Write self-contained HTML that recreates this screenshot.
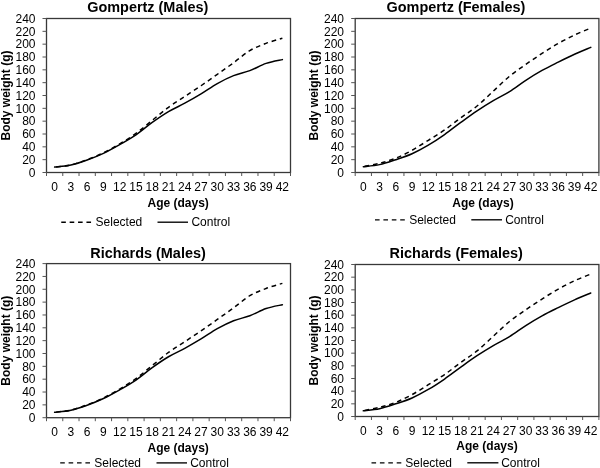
<!DOCTYPE html>
<html><head><meta charset="utf-8"><title>Growth curves</title>
<style>
html,body{margin:0;padding:0;background:#fff;}
svg{display:block;will-change:transform;}
text{font-family:"Liberation Sans",sans-serif;fill:#000;}
.t{font-size:12px;}
.b{font-size:12px;font-weight:bold;}
.ti{font-size:14.45px;font-weight:bold;}
</style></head><body>
<svg width="600" height="468" viewBox="0 0 600 468">
<rect x="0" y="0" width="600" height="468" fill="#fff"/>
<rect x="46.5" y="18.5" width="244.0" height="154.0" fill="none" stroke="#383838" stroke-width="1.3"/>
<line x1="42.5" y1="172.50" x2="46.5" y2="172.50" stroke="#555555" stroke-width="1"/>
<text x="35.5" y="176.80" text-anchor="end" class="t">0</text>
<line x1="42.5" y1="159.67" x2="46.5" y2="159.67" stroke="#555555" stroke-width="1"/>
<text x="35.5" y="163.97" text-anchor="end" class="t">20</text>
<line x1="42.5" y1="146.83" x2="46.5" y2="146.83" stroke="#555555" stroke-width="1"/>
<text x="35.5" y="151.13" text-anchor="end" class="t">40</text>
<line x1="42.5" y1="134.00" x2="46.5" y2="134.00" stroke="#555555" stroke-width="1"/>
<text x="35.5" y="138.30" text-anchor="end" class="t">60</text>
<line x1="42.5" y1="121.17" x2="46.5" y2="121.17" stroke="#555555" stroke-width="1"/>
<text x="35.5" y="125.47" text-anchor="end" class="t">80</text>
<line x1="42.5" y1="108.33" x2="46.5" y2="108.33" stroke="#555555" stroke-width="1"/>
<text x="35.5" y="112.63" text-anchor="end" class="t">100</text>
<line x1="42.5" y1="95.50" x2="46.5" y2="95.50" stroke="#555555" stroke-width="1"/>
<text x="35.5" y="99.80" text-anchor="end" class="t">120</text>
<line x1="42.5" y1="82.67" x2="46.5" y2="82.67" stroke="#555555" stroke-width="1"/>
<text x="35.5" y="86.97" text-anchor="end" class="t">140</text>
<line x1="42.5" y1="69.83" x2="46.5" y2="69.83" stroke="#555555" stroke-width="1"/>
<text x="35.5" y="74.13" text-anchor="end" class="t">160</text>
<line x1="42.5" y1="57.00" x2="46.5" y2="57.00" stroke="#555555" stroke-width="1"/>
<text x="35.5" y="61.30" text-anchor="end" class="t">180</text>
<line x1="42.5" y1="44.17" x2="46.5" y2="44.17" stroke="#555555" stroke-width="1"/>
<text x="35.5" y="48.47" text-anchor="end" class="t">200</text>
<line x1="42.5" y1="31.33" x2="46.5" y2="31.33" stroke="#555555" stroke-width="1"/>
<text x="35.5" y="35.63" text-anchor="end" class="t">220</text>
<line x1="42.5" y1="18.50" x2="46.5" y2="18.50" stroke="#555555" stroke-width="1"/>
<text x="35.5" y="22.80" text-anchor="end" class="t">240</text>
<line x1="46.50" y1="172.5" x2="46.50" y2="176.0" stroke="#555555" stroke-width="1"/>
<line x1="62.77" y1="172.5" x2="62.77" y2="176.0" stroke="#555555" stroke-width="1"/>
<line x1="79.03" y1="172.5" x2="79.03" y2="176.0" stroke="#555555" stroke-width="1"/>
<line x1="95.30" y1="172.5" x2="95.30" y2="176.0" stroke="#555555" stroke-width="1"/>
<line x1="111.57" y1="172.5" x2="111.57" y2="176.0" stroke="#555555" stroke-width="1"/>
<line x1="127.83" y1="172.5" x2="127.83" y2="176.0" stroke="#555555" stroke-width="1"/>
<line x1="144.10" y1="172.5" x2="144.10" y2="176.0" stroke="#555555" stroke-width="1"/>
<line x1="160.37" y1="172.5" x2="160.37" y2="176.0" stroke="#555555" stroke-width="1"/>
<line x1="176.63" y1="172.5" x2="176.63" y2="176.0" stroke="#555555" stroke-width="1"/>
<line x1="192.90" y1="172.5" x2="192.90" y2="176.0" stroke="#555555" stroke-width="1"/>
<line x1="209.17" y1="172.5" x2="209.17" y2="176.0" stroke="#555555" stroke-width="1"/>
<line x1="225.43" y1="172.5" x2="225.43" y2="176.0" stroke="#555555" stroke-width="1"/>
<line x1="241.70" y1="172.5" x2="241.70" y2="176.0" stroke="#555555" stroke-width="1"/>
<line x1="257.97" y1="172.5" x2="257.97" y2="176.0" stroke="#555555" stroke-width="1"/>
<line x1="274.23" y1="172.5" x2="274.23" y2="176.0" stroke="#555555" stroke-width="1"/>
<line x1="290.50" y1="172.5" x2="290.50" y2="176.0" stroke="#555555" stroke-width="1"/>
<text x="54.63" y="191" text-anchor="middle" class="t">0</text>
<text x="70.90" y="191" text-anchor="middle" class="t">3</text>
<text x="87.17" y="191" text-anchor="middle" class="t">6</text>
<text x="103.43" y="191" text-anchor="middle" class="t">9</text>
<text x="119.70" y="191" text-anchor="middle" class="t">12</text>
<text x="135.97" y="191" text-anchor="middle" class="t">15</text>
<text x="152.23" y="191" text-anchor="middle" class="t">18</text>
<text x="168.50" y="191" text-anchor="middle" class="t">21</text>
<text x="184.77" y="191" text-anchor="middle" class="t">24</text>
<text x="201.03" y="191" text-anchor="middle" class="t">27</text>
<text x="217.30" y="191" text-anchor="middle" class="t">30</text>
<text x="233.57" y="191" text-anchor="middle" class="t">33</text>
<text x="249.83" y="191" text-anchor="middle" class="t">36</text>
<text x="266.10" y="191" text-anchor="middle" class="t">39</text>
<text x="282.37" y="191" text-anchor="middle" class="t">42</text>
<path d="M54.63,167.11 C57.34,166.74 65.48,166.10 70.90,164.86 C76.32,163.62 81.74,161.68 87.17,159.67 C92.59,157.66 98.01,155.43 103.43,152.80 C108.86,150.17 114.28,147.11 119.70,143.88 C125.12,140.65 130.54,137.35 135.97,133.42 C141.39,129.50 146.81,124.69 152.23,120.33 C157.66,115.98 163.08,111.27 168.50,107.31 C173.92,103.34 179.34,100.12 184.77,96.53 C190.19,92.93 195.61,89.45 201.03,85.75 C206.46,82.05 211.88,78.15 217.30,74.32 C222.72,70.50 228.14,66.73 233.57,62.77 C238.99,58.82 244.41,53.82 249.83,50.58 C255.26,47.34 260.68,45.39 266.10,43.33 C271.52,41.28 279.66,39.11 282.37,38.26" fill="none" stroke="#000" stroke-width="1.5" stroke-dasharray="4.6,3.8" stroke-dashoffset="6.7"/>
<path d="M54.63,167.11 C57.34,166.76 65.48,166.18 70.90,164.99 C76.32,163.81 81.74,161.93 87.17,159.99 C92.59,158.04 98.01,155.87 103.43,153.31 C108.86,150.76 114.28,147.72 119.70,144.65 C125.12,141.58 130.54,138.60 135.97,134.90 C141.39,131.20 146.81,126.33 152.23,122.45 C157.66,118.57 163.08,114.81 168.50,111.61 C173.92,108.40 179.34,106.16 184.77,103.20 C190.19,100.24 195.61,97.10 201.03,93.83 C206.46,90.56 211.88,86.60 217.30,83.56 C222.72,80.53 228.14,77.76 233.57,75.61 C238.99,73.46 244.41,72.71 249.83,70.67 C255.26,68.62 260.68,65.19 266.10,63.35 C271.52,61.51 279.66,60.25 282.37,59.63" fill="none" stroke="#000" stroke-width="1.5" stroke-linecap="round"/>
<text x="147.75" y="11.5" text-anchor="middle" class="ti">Gompertz (Males)</text>
<text x="178.2" y="206.5" text-anchor="middle" class="b">Age (days)</text>
<text transform="translate(9.8,95.5) rotate(-90)" text-anchor="middle" class="b">Body weight (g)</text>
<line x1="61.25" y1="222.2" x2="91.25" y2="222.2" stroke="#000" stroke-width="1.35" stroke-dasharray="4.6,3.8"/>
<text x="95.6" y="226.25" class="t">Selected</text>
<line x1="157.5" y1="222.2" x2="188" y2="222.2" stroke="#000" stroke-width="1.35"/>
<text x="191.4" y="226.25" class="t">Control</text>
<rect x="355.2" y="18.5" width="243.7" height="154.0" fill="none" stroke="#383838" stroke-width="1.3"/>
<line x1="351.2" y1="172.50" x2="355.2" y2="172.50" stroke="#555555" stroke-width="1"/>
<text x="344" y="176.80" text-anchor="end" class="t">0</text>
<line x1="351.2" y1="159.67" x2="355.2" y2="159.67" stroke="#555555" stroke-width="1"/>
<text x="344" y="163.97" text-anchor="end" class="t">20</text>
<line x1="351.2" y1="146.83" x2="355.2" y2="146.83" stroke="#555555" stroke-width="1"/>
<text x="344" y="151.13" text-anchor="end" class="t">40</text>
<line x1="351.2" y1="134.00" x2="355.2" y2="134.00" stroke="#555555" stroke-width="1"/>
<text x="344" y="138.30" text-anchor="end" class="t">60</text>
<line x1="351.2" y1="121.17" x2="355.2" y2="121.17" stroke="#555555" stroke-width="1"/>
<text x="344" y="125.47" text-anchor="end" class="t">80</text>
<line x1="351.2" y1="108.33" x2="355.2" y2="108.33" stroke="#555555" stroke-width="1"/>
<text x="344" y="112.63" text-anchor="end" class="t">100</text>
<line x1="351.2" y1="95.50" x2="355.2" y2="95.50" stroke="#555555" stroke-width="1"/>
<text x="344" y="99.80" text-anchor="end" class="t">120</text>
<line x1="351.2" y1="82.67" x2="355.2" y2="82.67" stroke="#555555" stroke-width="1"/>
<text x="344" y="86.97" text-anchor="end" class="t">140</text>
<line x1="351.2" y1="69.83" x2="355.2" y2="69.83" stroke="#555555" stroke-width="1"/>
<text x="344" y="74.13" text-anchor="end" class="t">160</text>
<line x1="351.2" y1="57.00" x2="355.2" y2="57.00" stroke="#555555" stroke-width="1"/>
<text x="344" y="61.30" text-anchor="end" class="t">180</text>
<line x1="351.2" y1="44.17" x2="355.2" y2="44.17" stroke="#555555" stroke-width="1"/>
<text x="344" y="48.47" text-anchor="end" class="t">200</text>
<line x1="351.2" y1="31.33" x2="355.2" y2="31.33" stroke="#555555" stroke-width="1"/>
<text x="344" y="35.63" text-anchor="end" class="t">220</text>
<line x1="351.2" y1="18.50" x2="355.2" y2="18.50" stroke="#555555" stroke-width="1"/>
<text x="344" y="22.80" text-anchor="end" class="t">240</text>
<line x1="355.20" y1="172.5" x2="355.20" y2="176.0" stroke="#555555" stroke-width="1"/>
<line x1="371.45" y1="172.5" x2="371.45" y2="176.0" stroke="#555555" stroke-width="1"/>
<line x1="387.69" y1="172.5" x2="387.69" y2="176.0" stroke="#555555" stroke-width="1"/>
<line x1="403.94" y1="172.5" x2="403.94" y2="176.0" stroke="#555555" stroke-width="1"/>
<line x1="420.19" y1="172.5" x2="420.19" y2="176.0" stroke="#555555" stroke-width="1"/>
<line x1="436.43" y1="172.5" x2="436.43" y2="176.0" stroke="#555555" stroke-width="1"/>
<line x1="452.68" y1="172.5" x2="452.68" y2="176.0" stroke="#555555" stroke-width="1"/>
<line x1="468.93" y1="172.5" x2="468.93" y2="176.0" stroke="#555555" stroke-width="1"/>
<line x1="485.17" y1="172.5" x2="485.17" y2="176.0" stroke="#555555" stroke-width="1"/>
<line x1="501.42" y1="172.5" x2="501.42" y2="176.0" stroke="#555555" stroke-width="1"/>
<line x1="517.67" y1="172.5" x2="517.67" y2="176.0" stroke="#555555" stroke-width="1"/>
<line x1="533.91" y1="172.5" x2="533.91" y2="176.0" stroke="#555555" stroke-width="1"/>
<line x1="550.16" y1="172.5" x2="550.16" y2="176.0" stroke="#555555" stroke-width="1"/>
<line x1="566.41" y1="172.5" x2="566.41" y2="176.0" stroke="#555555" stroke-width="1"/>
<line x1="582.65" y1="172.5" x2="582.65" y2="176.0" stroke="#555555" stroke-width="1"/>
<line x1="598.90" y1="172.5" x2="598.90" y2="176.0" stroke="#555555" stroke-width="1"/>
<text x="363.32" y="190.5" text-anchor="middle" class="t">0</text>
<text x="379.57" y="190.5" text-anchor="middle" class="t">3</text>
<text x="395.82" y="190.5" text-anchor="middle" class="t">6</text>
<text x="412.06" y="190.5" text-anchor="middle" class="t">9</text>
<text x="428.31" y="190.5" text-anchor="middle" class="t">12</text>
<text x="444.56" y="190.5" text-anchor="middle" class="t">15</text>
<text x="460.80" y="190.5" text-anchor="middle" class="t">18</text>
<text x="477.05" y="190.5" text-anchor="middle" class="t">21</text>
<text x="493.30" y="190.5" text-anchor="middle" class="t">24</text>
<text x="509.54" y="190.5" text-anchor="middle" class="t">27</text>
<text x="525.79" y="190.5" text-anchor="middle" class="t">30</text>
<text x="542.04" y="190.5" text-anchor="middle" class="t">33</text>
<text x="558.28" y="190.5" text-anchor="middle" class="t">36</text>
<text x="574.53" y="190.5" text-anchor="middle" class="t">39</text>
<text x="590.78" y="190.5" text-anchor="middle" class="t">42</text>
<path d="M363.32,166.53 C366.03,165.99 374.15,164.65 379.57,163.26 C384.99,161.87 390.40,160.35 395.82,158.19 C401.23,156.03 406.65,153.28 412.06,150.30 C417.48,147.31 422.89,143.68 428.31,140.29 C433.73,136.90 439.14,133.71 444.56,129.96 C449.97,126.20 455.39,121.75 460.80,117.77 C466.22,113.78 471.63,110.46 477.05,106.02 C482.47,101.59 487.88,96.10 493.30,91.14 C498.71,86.17 504.13,80.71 509.54,76.25 C514.96,71.79 520.37,68.18 525.79,64.38 C531.21,60.58 536.62,56.97 542.04,53.47 C547.45,49.97 552.87,46.48 558.28,43.40 C563.70,40.32 569.11,37.54 574.53,34.99 C579.95,32.45 588.07,29.27 590.78,28.12" fill="none" stroke="#000" stroke-width="1.5" stroke-dasharray="4.6,3.8" stroke-dashoffset="7.0"/>
<path d="M363.32,166.72 C366.03,166.37 374.15,165.78 379.57,164.61 C384.99,163.43 390.40,161.48 395.82,159.67 C401.23,157.85 406.65,156.13 412.06,153.70 C417.48,151.27 422.89,148.30 428.31,145.10 C433.73,141.90 439.14,138.29 444.56,134.51 C449.97,130.74 455.39,126.39 460.80,122.45 C466.22,118.51 471.63,114.53 477.05,110.90 C482.47,107.27 487.88,103.92 493.30,100.70 C498.71,97.48 504.13,94.98 509.54,91.59 C514.96,88.20 520.37,83.88 525.79,80.36 C531.21,76.84 536.62,73.51 542.04,70.47 C547.45,67.44 552.87,64.83 558.28,62.13 C563.70,59.44 569.11,56.76 574.53,54.30 C579.95,51.85 588.07,48.53 590.78,47.37" fill="none" stroke="#000" stroke-width="1.5" stroke-linecap="round"/>
<text x="455.9" y="11.5" text-anchor="middle" class="ti">Gompertz (Females)</text>
<text x="483" y="206.5" text-anchor="middle" class="b">Age (days)</text>
<text transform="translate(318.0,95.5) rotate(-90)" text-anchor="middle" class="b">Body weight (g)</text>
<line x1="375" y1="219.8" x2="405" y2="219.8" stroke="#000" stroke-width="1.35" stroke-dasharray="4.6,3.8"/>
<text x="409.2" y="223.5" class="t">Selected</text>
<line x1="471.3" y1="219.8" x2="502" y2="219.8" stroke="#000" stroke-width="1.35"/>
<text x="505.2" y="223.5" class="t">Control</text>
<rect x="46.5" y="263.6" width="244.0" height="154.09999999999997" fill="none" stroke="#383838" stroke-width="1.3"/>
<line x1="42.5" y1="417.70" x2="46.5" y2="417.70" stroke="#555555" stroke-width="1"/>
<text x="35.5" y="422.00" text-anchor="end" class="t">0</text>
<line x1="42.5" y1="404.86" x2="46.5" y2="404.86" stroke="#555555" stroke-width="1"/>
<text x="35.5" y="409.16" text-anchor="end" class="t">20</text>
<line x1="42.5" y1="392.02" x2="46.5" y2="392.02" stroke="#555555" stroke-width="1"/>
<text x="35.5" y="396.32" text-anchor="end" class="t">40</text>
<line x1="42.5" y1="379.18" x2="46.5" y2="379.18" stroke="#555555" stroke-width="1"/>
<text x="35.5" y="383.48" text-anchor="end" class="t">60</text>
<line x1="42.5" y1="366.33" x2="46.5" y2="366.33" stroke="#555555" stroke-width="1"/>
<text x="35.5" y="370.63" text-anchor="end" class="t">80</text>
<line x1="42.5" y1="353.49" x2="46.5" y2="353.49" stroke="#555555" stroke-width="1"/>
<text x="35.5" y="357.79" text-anchor="end" class="t">100</text>
<line x1="42.5" y1="340.65" x2="46.5" y2="340.65" stroke="#555555" stroke-width="1"/>
<text x="35.5" y="344.95" text-anchor="end" class="t">120</text>
<line x1="42.5" y1="327.81" x2="46.5" y2="327.81" stroke="#555555" stroke-width="1"/>
<text x="35.5" y="332.11" text-anchor="end" class="t">140</text>
<line x1="42.5" y1="314.97" x2="46.5" y2="314.97" stroke="#555555" stroke-width="1"/>
<text x="35.5" y="319.27" text-anchor="end" class="t">160</text>
<line x1="42.5" y1="302.12" x2="46.5" y2="302.12" stroke="#555555" stroke-width="1"/>
<text x="35.5" y="306.43" text-anchor="end" class="t">180</text>
<line x1="42.5" y1="289.28" x2="46.5" y2="289.28" stroke="#555555" stroke-width="1"/>
<text x="35.5" y="293.58" text-anchor="end" class="t">200</text>
<line x1="42.5" y1="276.44" x2="46.5" y2="276.44" stroke="#555555" stroke-width="1"/>
<text x="35.5" y="280.74" text-anchor="end" class="t">220</text>
<line x1="42.5" y1="263.60" x2="46.5" y2="263.60" stroke="#555555" stroke-width="1"/>
<text x="35.5" y="267.90" text-anchor="end" class="t">240</text>
<line x1="46.50" y1="417.7" x2="46.50" y2="421.2" stroke="#555555" stroke-width="1"/>
<line x1="62.77" y1="417.7" x2="62.77" y2="421.2" stroke="#555555" stroke-width="1"/>
<line x1="79.03" y1="417.7" x2="79.03" y2="421.2" stroke="#555555" stroke-width="1"/>
<line x1="95.30" y1="417.7" x2="95.30" y2="421.2" stroke="#555555" stroke-width="1"/>
<line x1="111.57" y1="417.7" x2="111.57" y2="421.2" stroke="#555555" stroke-width="1"/>
<line x1="127.83" y1="417.7" x2="127.83" y2="421.2" stroke="#555555" stroke-width="1"/>
<line x1="144.10" y1="417.7" x2="144.10" y2="421.2" stroke="#555555" stroke-width="1"/>
<line x1="160.37" y1="417.7" x2="160.37" y2="421.2" stroke="#555555" stroke-width="1"/>
<line x1="176.63" y1="417.7" x2="176.63" y2="421.2" stroke="#555555" stroke-width="1"/>
<line x1="192.90" y1="417.7" x2="192.90" y2="421.2" stroke="#555555" stroke-width="1"/>
<line x1="209.17" y1="417.7" x2="209.17" y2="421.2" stroke="#555555" stroke-width="1"/>
<line x1="225.43" y1="417.7" x2="225.43" y2="421.2" stroke="#555555" stroke-width="1"/>
<line x1="241.70" y1="417.7" x2="241.70" y2="421.2" stroke="#555555" stroke-width="1"/>
<line x1="257.97" y1="417.7" x2="257.97" y2="421.2" stroke="#555555" stroke-width="1"/>
<line x1="274.23" y1="417.7" x2="274.23" y2="421.2" stroke="#555555" stroke-width="1"/>
<line x1="290.50" y1="417.7" x2="290.50" y2="421.2" stroke="#555555" stroke-width="1"/>
<text x="54.63" y="436" text-anchor="middle" class="t">0</text>
<text x="70.90" y="436" text-anchor="middle" class="t">3</text>
<text x="87.17" y="436" text-anchor="middle" class="t">6</text>
<text x="103.43" y="436" text-anchor="middle" class="t">9</text>
<text x="119.70" y="436" text-anchor="middle" class="t">12</text>
<text x="135.97" y="436" text-anchor="middle" class="t">15</text>
<text x="152.23" y="436" text-anchor="middle" class="t">18</text>
<text x="168.50" y="436" text-anchor="middle" class="t">21</text>
<text x="184.77" y="436" text-anchor="middle" class="t">24</text>
<text x="201.03" y="436" text-anchor="middle" class="t">27</text>
<text x="217.30" y="436" text-anchor="middle" class="t">30</text>
<text x="233.57" y="436" text-anchor="middle" class="t">33</text>
<text x="249.83" y="436" text-anchor="middle" class="t">36</text>
<text x="266.10" y="436" text-anchor="middle" class="t">39</text>
<text x="282.37" y="436" text-anchor="middle" class="t">42</text>
<path d="M54.63,412.31 C57.34,411.93 65.48,411.30 70.90,410.06 C76.32,408.82 81.74,406.87 87.17,404.86 C92.59,402.85 98.01,400.62 103.43,397.99 C108.86,395.36 114.28,392.29 119.70,389.06 C125.12,385.83 130.54,382.52 135.97,378.60 C141.39,374.67 146.81,369.85 152.23,365.50 C157.66,361.14 163.08,356.43 168.50,352.46 C173.92,348.49 179.34,345.27 184.77,341.68 C190.19,338.08 195.61,334.59 201.03,330.89 C206.46,327.19 211.88,323.29 217.30,319.46 C222.72,315.63 228.14,311.86 233.57,307.90 C238.99,303.94 244.41,298.95 249.83,295.70 C255.26,292.46 260.68,290.50 266.10,288.45 C271.52,286.39 279.66,284.22 282.37,283.38" fill="none" stroke="#000" stroke-width="1.5" stroke-dasharray="4.6,3.8" stroke-dashoffset="6.7"/>
<path d="M54.63,412.31 C57.34,411.95 65.48,411.38 70.90,410.19 C76.32,409.00 81.74,407.13 87.17,405.18 C92.59,403.23 98.01,401.06 103.43,398.50 C108.86,395.94 114.28,392.90 119.70,389.83 C125.12,386.76 130.54,383.78 135.97,380.07 C141.39,376.37 146.81,371.50 152.23,367.62 C157.66,363.73 163.08,359.98 168.50,356.77 C173.92,353.56 179.34,351.32 184.77,348.36 C190.19,345.39 195.61,342.26 201.03,338.98 C206.46,335.71 211.88,331.75 217.30,328.71 C222.72,325.67 228.14,322.90 233.57,320.75 C238.99,318.59 244.41,317.85 249.83,315.80 C255.26,313.76 260.68,310.32 266.10,308.48 C271.52,306.64 279.66,305.38 282.37,304.76" fill="none" stroke="#000" stroke-width="1.5" stroke-linecap="round"/>
<text x="148" y="258" text-anchor="middle" class="ti">Richards (Males)</text>
<text x="178.2" y="451.5" text-anchor="middle" class="b">Age (days)</text>
<text transform="translate(9.8,340.65) rotate(-90)" text-anchor="middle" class="b">Body weight (g)</text>
<line x1="60.2" y1="462.9" x2="90.4" y2="462.9" stroke="#000" stroke-width="1.35" stroke-dasharray="4.6,3.8"/>
<text x="94.3" y="466.8" class="t">Selected</text>
<line x1="156.5" y1="462.9" x2="187" y2="462.9" stroke="#000" stroke-width="1.35"/>
<text x="190.2" y="466.8" class="t">Control</text>
<rect x="355.2" y="264.5" width="243.7" height="152.0" fill="none" stroke="#383838" stroke-width="1.3"/>
<line x1="351.2" y1="416.50" x2="355.2" y2="416.50" stroke="#555555" stroke-width="1"/>
<text x="344" y="420.80" text-anchor="end" class="t">0</text>
<line x1="351.2" y1="403.83" x2="355.2" y2="403.83" stroke="#555555" stroke-width="1"/>
<text x="344" y="408.13" text-anchor="end" class="t">20</text>
<line x1="351.2" y1="391.17" x2="355.2" y2="391.17" stroke="#555555" stroke-width="1"/>
<text x="344" y="395.47" text-anchor="end" class="t">40</text>
<line x1="351.2" y1="378.50" x2="355.2" y2="378.50" stroke="#555555" stroke-width="1"/>
<text x="344" y="382.80" text-anchor="end" class="t">60</text>
<line x1="351.2" y1="365.83" x2="355.2" y2="365.83" stroke="#555555" stroke-width="1"/>
<text x="344" y="370.13" text-anchor="end" class="t">80</text>
<line x1="351.2" y1="353.17" x2="355.2" y2="353.17" stroke="#555555" stroke-width="1"/>
<text x="344" y="357.47" text-anchor="end" class="t">100</text>
<line x1="351.2" y1="340.50" x2="355.2" y2="340.50" stroke="#555555" stroke-width="1"/>
<text x="344" y="344.80" text-anchor="end" class="t">120</text>
<line x1="351.2" y1="327.83" x2="355.2" y2="327.83" stroke="#555555" stroke-width="1"/>
<text x="344" y="332.13" text-anchor="end" class="t">140</text>
<line x1="351.2" y1="315.17" x2="355.2" y2="315.17" stroke="#555555" stroke-width="1"/>
<text x="344" y="319.47" text-anchor="end" class="t">160</text>
<line x1="351.2" y1="302.50" x2="355.2" y2="302.50" stroke="#555555" stroke-width="1"/>
<text x="344" y="306.80" text-anchor="end" class="t">180</text>
<line x1="351.2" y1="289.83" x2="355.2" y2="289.83" stroke="#555555" stroke-width="1"/>
<text x="344" y="294.13" text-anchor="end" class="t">200</text>
<line x1="351.2" y1="277.17" x2="355.2" y2="277.17" stroke="#555555" stroke-width="1"/>
<text x="344" y="281.47" text-anchor="end" class="t">220</text>
<line x1="351.2" y1="264.50" x2="355.2" y2="264.50" stroke="#555555" stroke-width="1"/>
<text x="344" y="268.80" text-anchor="end" class="t">240</text>
<line x1="355.20" y1="416.5" x2="355.20" y2="420.0" stroke="#555555" stroke-width="1"/>
<line x1="371.45" y1="416.5" x2="371.45" y2="420.0" stroke="#555555" stroke-width="1"/>
<line x1="387.69" y1="416.5" x2="387.69" y2="420.0" stroke="#555555" stroke-width="1"/>
<line x1="403.94" y1="416.5" x2="403.94" y2="420.0" stroke="#555555" stroke-width="1"/>
<line x1="420.19" y1="416.5" x2="420.19" y2="420.0" stroke="#555555" stroke-width="1"/>
<line x1="436.43" y1="416.5" x2="436.43" y2="420.0" stroke="#555555" stroke-width="1"/>
<line x1="452.68" y1="416.5" x2="452.68" y2="420.0" stroke="#555555" stroke-width="1"/>
<line x1="468.93" y1="416.5" x2="468.93" y2="420.0" stroke="#555555" stroke-width="1"/>
<line x1="485.17" y1="416.5" x2="485.17" y2="420.0" stroke="#555555" stroke-width="1"/>
<line x1="501.42" y1="416.5" x2="501.42" y2="420.0" stroke="#555555" stroke-width="1"/>
<line x1="517.67" y1="416.5" x2="517.67" y2="420.0" stroke="#555555" stroke-width="1"/>
<line x1="533.91" y1="416.5" x2="533.91" y2="420.0" stroke="#555555" stroke-width="1"/>
<line x1="550.16" y1="416.5" x2="550.16" y2="420.0" stroke="#555555" stroke-width="1"/>
<line x1="566.41" y1="416.5" x2="566.41" y2="420.0" stroke="#555555" stroke-width="1"/>
<line x1="582.65" y1="416.5" x2="582.65" y2="420.0" stroke="#555555" stroke-width="1"/>
<line x1="598.90" y1="416.5" x2="598.90" y2="420.0" stroke="#555555" stroke-width="1"/>
<text x="363.32" y="434.7" text-anchor="middle" class="t">0</text>
<text x="379.57" y="434.7" text-anchor="middle" class="t">3</text>
<text x="395.82" y="434.7" text-anchor="middle" class="t">6</text>
<text x="412.06" y="434.7" text-anchor="middle" class="t">9</text>
<text x="428.31" y="434.7" text-anchor="middle" class="t">12</text>
<text x="444.56" y="434.7" text-anchor="middle" class="t">15</text>
<text x="460.80" y="434.7" text-anchor="middle" class="t">18</text>
<text x="477.05" y="434.7" text-anchor="middle" class="t">21</text>
<text x="493.30" y="434.7" text-anchor="middle" class="t">24</text>
<text x="509.54" y="434.7" text-anchor="middle" class="t">27</text>
<text x="525.79" y="434.7" text-anchor="middle" class="t">30</text>
<text x="542.04" y="434.7" text-anchor="middle" class="t">33</text>
<text x="558.28" y="434.7" text-anchor="middle" class="t">36</text>
<text x="574.53" y="434.7" text-anchor="middle" class="t">39</text>
<text x="590.78" y="434.7" text-anchor="middle" class="t">42</text>
<path d="M363.32,410.61 C366.03,410.07 374.15,408.75 379.57,407.38 C384.99,406.01 390.40,404.51 395.82,402.38 C401.23,400.24 406.65,397.53 412.06,394.59 C417.48,391.64 422.89,388.05 428.31,384.71 C433.73,381.36 439.14,378.21 444.56,374.51 C449.97,370.81 455.39,366.41 460.80,362.48 C466.22,358.54 471.63,355.27 477.05,350.89 C482.47,346.51 487.88,341.09 493.30,336.19 C498.71,331.30 504.13,325.90 509.54,321.50 C514.96,317.10 520.37,313.53 525.79,309.78 C531.21,306.04 536.62,302.47 542.04,299.02 C547.45,295.56 552.87,292.11 558.28,289.07 C563.70,286.03 569.11,283.29 574.53,280.78 C579.95,278.26 588.07,275.13 590.78,274.00" fill="none" stroke="#000" stroke-width="1.5" stroke-dasharray="4.6,3.8" stroke-dashoffset="7.0"/>
<path d="M363.32,410.80 C366.03,410.45 374.15,409.87 379.57,408.71 C384.99,407.55 390.40,405.63 395.82,403.83 C401.23,402.04 406.65,400.34 412.06,397.94 C417.48,395.55 422.89,392.61 428.31,389.46 C433.73,386.30 439.14,382.73 444.56,379.01 C449.97,375.28 455.39,370.98 460.80,367.10 C466.22,363.22 471.63,359.28 477.05,355.70 C482.47,352.12 487.88,348.81 493.30,345.63 C498.71,342.45 504.13,339.98 509.54,336.64 C514.96,333.29 520.37,329.03 525.79,325.55 C531.21,322.08 536.62,318.80 542.04,315.80 C547.45,312.80 552.87,310.23 558.28,307.57 C563.70,304.91 569.11,302.27 574.53,299.84 C579.95,297.41 588.07,294.14 590.78,293.00" fill="none" stroke="#000" stroke-width="1.5" stroke-linecap="round"/>
<text x="456.2" y="258" text-anchor="middle" class="ti">Richards (Females)</text>
<text x="487" y="449.5" text-anchor="middle" class="b">Age (days)</text>
<text transform="translate(318.0,340.5) rotate(-90)" text-anchor="middle" class="b">Body weight (g)</text>
<line x1="371.5" y1="462.8" x2="401.5" y2="462.8" stroke="#000" stroke-width="1.35" stroke-dasharray="4.6,3.8"/>
<text x="405.3" y="466.8" class="t">Selected</text>
<line x1="467.3" y1="462.8" x2="498.4" y2="462.8" stroke="#000" stroke-width="1.35"/>
<text x="501.2" y="466.8" class="t">Control</text>
</svg>
</body></html>
